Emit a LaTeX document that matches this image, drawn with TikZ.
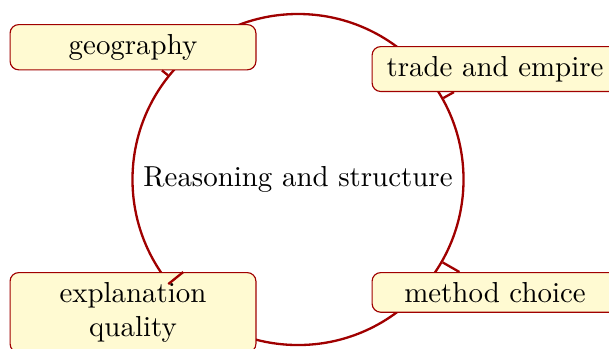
\documentclass[tikz,border=0pt]{standalone}
\definecolor{dred}{RGB}{160,0,0}
\definecolor{leafyellow}{RGB}{255,250,210}
\tikzset{
  leaf/.style={draw=dred, line width=0.4pt, fill=leafyellow, rounded corners=3pt,
    text width=78.4pt, align=center, inner sep=3.33pt, anchor=north},
  hub/.style={circle, draw=dred, thick, inner sep=3.33pt},
  link/.style={draw=dred, thick}
}
\begin{document}
\begin{tikzpicture}[x=0.346pt,y=-0.346pt]
\useasboundingbox (0,0) rectangle (609,348);
\node[hub] (c) at (298,179.5) {Reasoning and structure};
\node[leaf] (geo) at (133,24) {geography};
\node[leaf] (trade) at (495,46) {trade and empire};
\node[leaf] (expl) at (133,272) {explanation quality};
\node[leaf] (meth) at (495,272) {method choice};
\draw[link] (c) -- (geo);
\draw[link] (c) -- (trade);
\draw[link] (c) -- (expl);
\draw[link] (c) -- (meth);
\end{tikzpicture}
\end{document}
